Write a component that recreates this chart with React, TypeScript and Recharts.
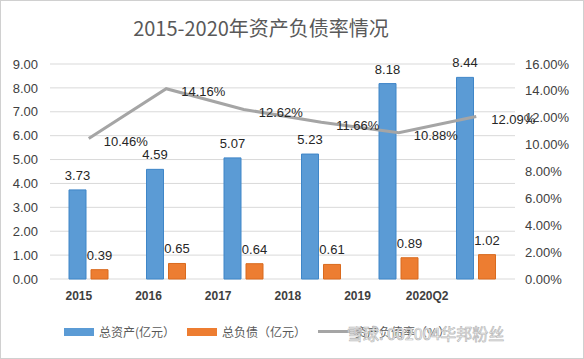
import React from 'react';
import {
  ComposedChart,
  Bar,
  Line,
  XAxis,
  YAxis,
  CartesianGrid,
  Legend,
  LabelList,
} from 'recharts';

const years = ['2015', '2016', '2017', '2018', '2019', '2020Q2'];
const totalAssets = [3.73, 4.59, 5.07, 5.23, 8.18, 8.44];
const totalDebt = [0.39, 0.65, 0.64, 0.61, 0.89, 1.02];
const debtRatio = [10.46, 14.16, 12.62, 11.66, 10.88, 12.09];
const leftTicks = [0, 1, 2, 3, 4, 5, 6, 7, 8, 9];
const rightTicks = [0, 2, 4, 6, 8, 10, 12, 14, 16];
const seriesNames = ['总资产(亿元）', '总负债（亿元）', '资产负债率（%）'];

const data = years.map((y, i) => ({
  year: y,
  assets: totalAssets[i],
  debt: totalDebt[i],
  ratio: debtRatio[i],
}));

const FONT = '"Liberation Sans", Arial, sans-serif';
const CJK = '"Noto Sans CJK SC", "Noto Sans", sans-serif';
const labelStyle = { fontSize: 13, fill: '#262626', fontFamily: FONT };

function LegendContent({ payload }: { payload?: Array<{ value: string; color: string; type?: string }> }) {
  if (!payload) return null;
  const items = [...payload].sort((a, b) => seriesNames.indexOf(a.value) - seriesNames.indexOf(b.value));
  return (
    <div style={{ display: 'flex', alignItems: 'center', paddingLeft: 64, fontFamily: CJK, fontSize: 12, color: '#595959' }}>
      {items.map((p, i) => (
        <span key={i} style={{ display: 'flex', alignItems: 'center', marginRight: 12 }}>
          {p.type === 'line' ? (
            <span style={{ display: 'inline-block', width: 32, height: 3, background: p.color, marginRight: 5 }} />
          ) : (
            <span style={{ display: 'inline-block', width: 30, height: 8, background: p.color, marginRight: 5 }} />
          )}
          {p.value}
        </span>
      ))}
    </div>
  );
}

export default function App() {
  return (
    <div
      style={{
        position: 'absolute',
        left: 0,
        top: 0,
        width: 584,
        height: 359,
        background: '#fff',
        border: '1px solid #d0d0d0',
        boxSizing: 'border-box',
      }}
    >
      <div
        style={{
          position: 'absolute',
          top: 12,
          left: 0,
          width: 520,
          textAlign: 'center',
          fontFamily: CJK,
          fontSize: 20,
          color: '#595959',
          lineHeight: '30px',
        }}
      >
        2015-2020年资产负债率情况
      </div>
      <div style={{ position: 'absolute', top: -1, left: -1 }}>
        <ComposedChart
          width={584}
          height={359}
          data={data}
          margin={{ top: 64, right: 0, bottom: 50, left: 0 }}
          barGap={5}
          barCategoryGap={19}
        >
          <CartesianGrid vertical={false} stroke="#d9d9d9" yAxisId="left" xAxisId="main" />
          <XAxis xAxisId="main" dataKey="year" hide />
          <XAxis
            xAxisId="lbl"
            dataKey="year"
            axisLine={false}
            tickLine={false}
            height={30}
            tickMargin={6}
            padding={{ left: 0, right: 47 }}
            tick={{ fontSize: 12, fill: '#404040', fontFamily: FONT, fontWeight: 'bold', dx: -6 }}
          />
          <YAxis
            yAxisId="left"
            width={50}
            domain={[0, 9]}
            ticks={leftTicks}
            axisLine={false}
            tickLine={false}
            tickMargin={6}
            tickFormatter={(v) => v.toFixed(2)}
            tick={{ fontSize: 13, fill: '#404040', fontFamily: FONT }}
          />
          <YAxis
            yAxisId="right"
            orientation="right"
            width={69}
            domain={[0, 16]}
            ticks={rightTicks}
            axisLine={false}
            tickLine={false}
            tickMargin={4}
            tickFormatter={(v) => `${v.toFixed(2)}%`}
            tick={{ fontSize: 13, fill: '#404040', fontFamily: FONT }}
          />
          <Legend
            layout="horizontal"
            verticalAlign="middle"
            align="center"
            wrapperStyle={{ top: 323, left: 0, width: 584 }}
            content={<LegendContent />}
          />
          <Bar
            xAxisId="main"
            yAxisId="left"
            dataKey="assets"
            name={seriesNames[0]}
            fill="#5B9BD5"
            stroke="#3f86c8"
            barSize={17}
            isAnimationActive={false}
          >
            <LabelList dataKey="assets" position="top" offset={10} style={labelStyle} formatter={(v: number) => v.toFixed(2)} />
          </Bar>
          <Bar
            xAxisId="main"
            yAxisId="left"
            dataKey="debt"
            name={seriesNames[1]}
            fill="#ED7D31"
            stroke="#d96a1e"
            barSize={17}
            isAnimationActive={false}
          >
            <LabelList dataKey="debt" position="top" offset={10} style={labelStyle} formatter={(v: number) => v.toFixed(2)} />
          </Bar>
          <Line
            xAxisId="main"
            yAxisId="right"
            type="linear"
            dataKey="ratio"
            name={seriesNames[2]}
            stroke="#A5A5A5"
            strokeWidth={3}
            dot={false}
            legendType="line"
            isAnimationActive={false}
          >
            <LabelList
              dataKey="ratio"
              position="right"
              offset={15}
              dy={3}
              style={labelStyle}
              formatter={(v: number) => `${v.toFixed(2)}%`}
            />
          </Line>
        </ComposedChart>
      </div>
      <div
        style={{
          position: 'absolute',
          top: 320,
          left: 346,
          fontFamily: CJK,
          fontSize: 16,
          color: '#ffffff',
          WebkitTextStroke: '0.7px #b8b8b8',
          whiteSpace: 'nowrap',
        }}
      >
        雪球: 002004华邦粉丝
      </div>
    </div>
  );
}
